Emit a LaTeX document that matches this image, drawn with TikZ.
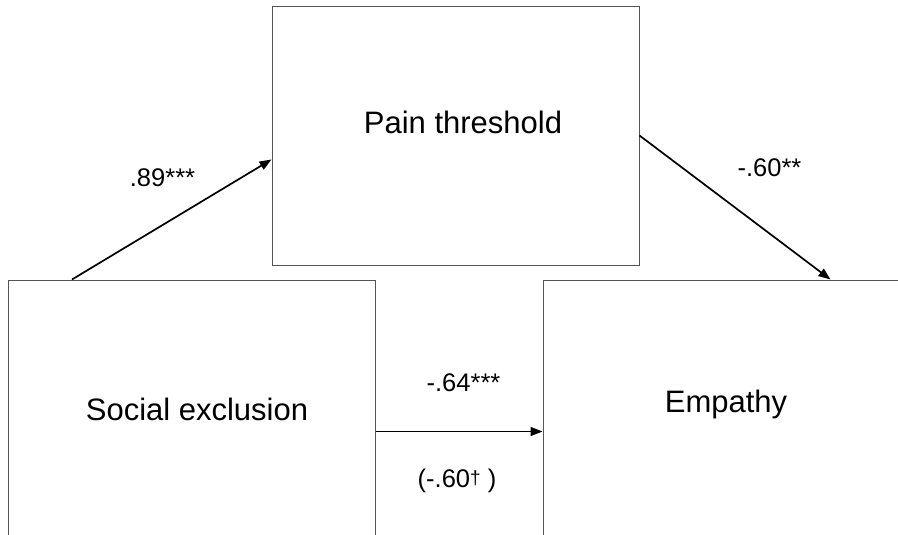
\documentclass[tikz,border=0pt]{standalone}
\usepackage{fontspec}
\setmainfont{Liberation Sans}
\usetikzlibrary{arrows.meta}

\definecolor{boxgray}{RGB}{85,85,85}
\newcommand{\boxfont}{\fontsize{31}{37}\selectfont}
\newcommand{\coeffont}{\fontsize{25.5}{30}\selectfont}

\tikzset{
  varbox/.style={draw=boxgray, line width=1pt, minimum width=367pt, minimum height=258pt, inner sep=0pt},
  varname/.style={anchor=base, font=\boxfont, inner sep=0pt},
  coef/.style={anchor=base, font=\coeffont, inner sep=0pt},
  path arrow/.style={draw=black, line width=1.7pt, -{Triangle[length=12pt,width=9pt]}}
}

\begin{document}
\begin{tikzpicture}[x=1pt, y=-1pt]
  % picture frame
  \clip (0,0) rectangle (898,535);

  % the three variable boxes (partly cut by the frame)
  \node[varbox] (pain) at (455.5,136) {};
  \node[varbox] (social) at (192,409) {};
  \node[varbox] (empathy) at (726.5,409) {};

  % box texts
  \node[varname] (paintxt) at (463,134) {Pain threshold};
  \node[varname] (socialtxt) at (197,420) {Social exclusion};
  \node[varname] (empathytxt) at (726,412) {Empathy};

  % paths
  \draw[path arrow] ([xshift=64pt]social.north west) -- ([yshift=-153pt]pain.north west);
  \draw[path arrow] ([yshift=-129pt]pain.north east) -- ([xshift=288pt]empathy.north west);
  \draw[path arrow, line width=1.4pt] ([yshift=-152pt]social.north east) -- ([yshift=-152pt]empathy.north west);

  % coefficients
  \node[coef] (apath) at (162.5,186) {.89***};
  \node[coef] (bpath) at (769.5,176) {-.60**};
  \node[coef] (cpath) at (463.5,391) {-.64***};
  \node[coef] (cprime) at (457,487) {(-.60\raisebox{3pt}{\fontsize{19}{20}\selectfont †} )};
\end{tikzpicture}
\end{document}
